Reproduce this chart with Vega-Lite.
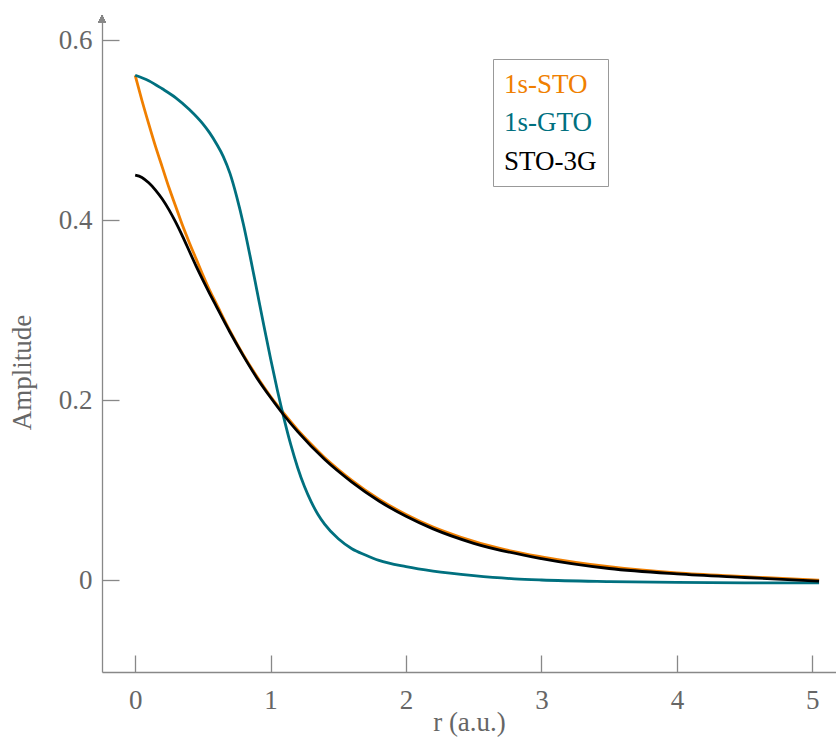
{
  "$schema": "https://vega.github.io/schema/vega-lite/v6.json",
  "width": 734,
  "height": 657,
  "autosize": "none",
  "padding": {"left": 102, "top": 15, "right": 0, "bottom": 70},
  "background": "white",
  "config": {
    "view": {"stroke": null},
    "font": "Liberation Serif",
    "axis": {
      "grid": false,
      "domainColor": "#888888",
      "domainWidth": 1.3,
      "tickColor": "#888888",
      "tickWidth": 1.3,
      "labelColor": "#666666",
      "titleColor": "#666666",
      "labelFont": "Liberation Serif",
      "titleFont": "Liberation Serif",
      "labelFontSize": 27,
      "titleFontSize": 27,
      "labelFontWeight": "normal",
      "titleFontWeight": "normal"
    },
    "legend": {
      "labelFont": "Liberation Serif",
      "labelFontSize": 27
    }
  },
  "data": {
    "values": [
      {"r": 0, "series": "1s-STO", "amp": 0.561},
      {"r": 0.05, "series": "1s-STO", "amp": 0.533},
      {"r": 0.1, "series": "1s-STO", "amp": 0.507},
      {"r": 0.15, "series": "1s-STO", "amp": 0.482},
      {"r": 0.2, "series": "1s-STO", "amp": 0.459},
      {"r": 0.25, "series": "1s-STO", "amp": 0.436},
      {"r": 0.3, "series": "1s-STO", "amp": 0.415},
      {"r": 0.35, "series": "1s-STO", "amp": 0.394},
      {"r": 0.4, "series": "1s-STO", "amp": 0.375},
      {"r": 0.45, "series": "1s-STO", "amp": 0.357},
      {"r": 0.5, "series": "1s-STO", "amp": 0.339},
      {"r": 0.55, "series": "1s-STO", "amp": 0.322},
      {"r": 0.6, "series": "1s-STO", "amp": 0.307},
      {"r": 0.7, "series": "1s-STO", "amp": 0.277},
      {"r": 0.8, "series": "1s-STO", "amp": 0.250},
      {"r": 0.9, "series": "1s-STO", "amp": 0.226},
      {"r": 1.0, "series": "1s-STO", "amp": 0.204},
      {"r": 1.1, "series": "1s-STO", "amp": 0.185},
      {"r": 1.2, "series": "1s-STO", "amp": 0.167},
      {"r": 1.3, "series": "1s-STO", "amp": 0.151},
      {"r": 1.4, "series": "1s-STO", "amp": 0.136},
      {"r": 1.5, "series": "1s-STO", "amp": 0.123},
      {"r": 1.6, "series": "1s-STO", "amp": 0.111},
      {"r": 1.8, "series": "1s-STO", "amp": 0.090},
      {"r": 2.0, "series": "1s-STO", "amp": 0.073},
      {"r": 2.2, "series": "1s-STO", "amp": 0.059},
      {"r": 2.4, "series": "1s-STO", "amp": 0.048},
      {"r": 2.7, "series": "1s-STO", "amp": 0.035},
      {"r": 3.0, "series": "1s-STO", "amp": 0.026},
      {"r": 3.5, "series": "1s-STO", "amp": 0.015},
      {"r": 4.0, "series": "1s-STO", "amp": 0.008},
      {"r": 4.5, "series": "1s-STO", "amp": 0.004},
      {"r": 5.05, "series": "1s-STO", "amp": 0.000},

      {"r": 0, "series": "1s-GTO", "amp": 0.561},
      {"r": 0.1, "series": "1s-GTO", "amp": 0.555},
      {"r": 0.2, "series": "1s-GTO", "amp": 0.546},
      {"r": 0.3, "series": "1s-GTO", "amp": 0.536},
      {"r": 0.4, "series": "1s-GTO", "amp": 0.523},
      {"r": 0.5, "series": "1s-GTO", "amp": 0.507},
      {"r": 0.55, "series": "1s-GTO", "amp": 0.497},
      {"r": 0.6, "series": "1s-GTO", "amp": 0.485},
      {"r": 0.65, "series": "1s-GTO", "amp": 0.471},
      {"r": 0.7, "series": "1s-GTO", "amp": 0.452},
      {"r": 0.75, "series": "1s-GTO", "amp": 0.426},
      {"r": 0.8, "series": "1s-GTO", "amp": 0.395},
      {"r": 0.85, "series": "1s-GTO", "amp": 0.359},
      {"r": 0.9, "series": "1s-GTO", "amp": 0.321},
      {"r": 0.95, "series": "1s-GTO", "amp": 0.283},
      {"r": 1.0, "series": "1s-GTO", "amp": 0.246},
      {"r": 1.05, "series": "1s-GTO", "amp": 0.211},
      {"r": 1.1, "series": "1s-GTO", "amp": 0.179},
      {"r": 1.15, "series": "1s-GTO", "amp": 0.150},
      {"r": 1.2, "series": "1s-GTO", "amp": 0.125},
      {"r": 1.25, "series": "1s-GTO", "amp": 0.104},
      {"r": 1.3, "series": "1s-GTO", "amp": 0.087},
      {"r": 1.35, "series": "1s-GTO", "amp": 0.073},
      {"r": 1.4, "series": "1s-GTO", "amp": 0.062},
      {"r": 1.5, "series": "1s-GTO", "amp": 0.046},
      {"r": 1.6, "series": "1s-GTO", "amp": 0.035},
      {"r": 1.7, "series": "1s-GTO", "amp": 0.028},
      {"r": 1.8, "series": "1s-GTO", "amp": 0.022},
      {"r": 2.0, "series": "1s-GTO", "amp": 0.015},
      {"r": 2.2, "series": "1s-GTO", "amp": 0.010},
      {"r": 2.5, "series": "1s-GTO", "amp": 0.005},
      {"r": 2.8, "series": "1s-GTO", "amp": 0.0015},
      {"r": 3.0, "series": "1s-GTO", "amp": 0.0002},
      {"r": 3.5, "series": "1s-GTO", "amp": -0.0015},
      {"r": 4.0, "series": "1s-GTO", "amp": -0.0025},
      {"r": 4.5, "series": "1s-GTO", "amp": -0.003},
      {"r": 5.05, "series": "1s-GTO", "amp": -0.003},

      {"r": 0, "series": "STO-3G", "amp": 0.450},
      {"r": 0.05, "series": "STO-3G", "amp": 0.4475},
      {"r": 0.1, "series": "STO-3G", "amp": 0.4415},
      {"r": 0.15, "series": "STO-3G", "amp": 0.4335},
      {"r": 0.2, "series": "STO-3G", "amp": 0.4235},
      {"r": 0.25, "series": "STO-3G", "amp": 0.4115},
      {"r": 0.3, "series": "STO-3G", "amp": 0.3975},
      {"r": 0.35, "series": "STO-3G", "amp": 0.382},
      {"r": 0.4, "series": "STO-3G", "amp": 0.3655},
      {"r": 0.45, "series": "STO-3G", "amp": 0.349},
      {"r": 0.5, "series": "STO-3G", "amp": 0.3335},
      {"r": 0.55, "series": "STO-3G", "amp": 0.3185},
      {"r": 0.6, "series": "STO-3G", "amp": 0.304},
      {"r": 0.7, "series": "STO-3G", "amp": 0.2755},
      {"r": 0.8, "series": "STO-3G", "amp": 0.249},
      {"r": 0.9, "series": "STO-3G", "amp": 0.2245},
      {"r": 1.0, "series": "STO-3G", "amp": 0.203},
      {"r": 1.1, "series": "STO-3G", "amp": 0.183},
      {"r": 1.2, "series": "STO-3G", "amp": 0.165},
      {"r": 1.4, "series": "STO-3G", "amp": 0.134},
      {"r": 1.6, "series": "STO-3G", "amp": 0.109},
      {"r": 1.8, "series": "STO-3G", "amp": 0.088},
      {"r": 2.0, "series": "STO-3G", "amp": 0.071},
      {"r": 2.2, "series": "STO-3G", "amp": 0.057},
      {"r": 2.5, "series": "STO-3G", "amp": 0.041},
      {"r": 3.0, "series": "STO-3G", "amp": 0.024},
      {"r": 3.5, "series": "STO-3G", "amp": 0.013},
      {"r": 4.0, "series": "STO-3G", "amp": 0.007},
      {"r": 4.5, "series": "STO-3G", "amp": 0.003},
      {"r": 5.05, "series": "STO-3G", "amp": -0.001}
    ]
  },
  "layer": [
    {
      "mark": {"type": "line", "strokeWidth": 2.8, "interpolate": "monotone"},
      "encoding": {
        "x": {
          "field": "r",
          "type": "quantitative",
          "scale": {"domain": [-0.245, 5.175], "nice": false, "zero": false},
          "axis": {
            "title": "r (a.u.)",
            "values": [0, 1, 2, 3, 4, 5],
            "format": "d",
            "tickSize": -17,
            "labelPadding": 53,
            "labelBaseline": "alphabetic",
            "titleY": 58,
            "titleBaseline": "alphabetic",
            "titleAnchor": "middle"
          }
        },
        "y": {
          "field": "amp",
          "type": "quantitative",
          "scale": {"domain": [-0.102, 0.628], "nice": false, "zero": false},
          "axis": {
            "title": "Amplitude",
            "values": [0, 0.2, 0.4, 0.6],
            "format": "~g",
            "tickSize": -17,
            "labelPadding": 27,
            "titleAngle": -90,
            "titleX": -72,
            "titleY": 357,
            "titleBaseline": "alphabetic",
            "titleAlign": "center"
          }
        },
        "color": {
          "field": "series",
          "type": "nominal",
          "scale": {
            "domain": ["1s-STO", "1s-GTO", "STO-3G"],
            "range": ["#F07F00", "#00707F", "#000000"]
          },
          "legend": {
            "title": null,
            "orient": "none",
            "legendX": 391,
            "legendY": 44,
            "symbolType": "circle",
            "symbolSize": 1,
            "symbolStrokeWidth": 0,
            "symbolOpacity": 0,
            "labelOffset": -27,
            "labelFont": "Liberation Serif",
            "labelFontSize": 27,
            "labelLimit": 300,
            "rowPadding": 10.5,
            "padding": 11,
            "strokeColor": "#999999",
            "fillColor": "white",
            "encode": {
              "labels": {"update": {"fill": {"scale": "color", "field": "value"}, "font": {"value": "Liberation Serif"}, "fontSize": {"value": 27}, "dy": {"value": 1}}},
              "symbols": {"update": {"opacity": {"value": 0}}}
            }
          }
        }
      }
    },
    {
      "mark": {"type": "point", "shape": "triangle-up", "filled": true, "size": 60, "color": "#888888", "opacity": 1},
      "encoding": {
        "x": {"datum": -0.245, "type": "quantitative"},
        "y": {"datum": 0.6235, "type": "quantitative"}
      }
    }
  ]
}
